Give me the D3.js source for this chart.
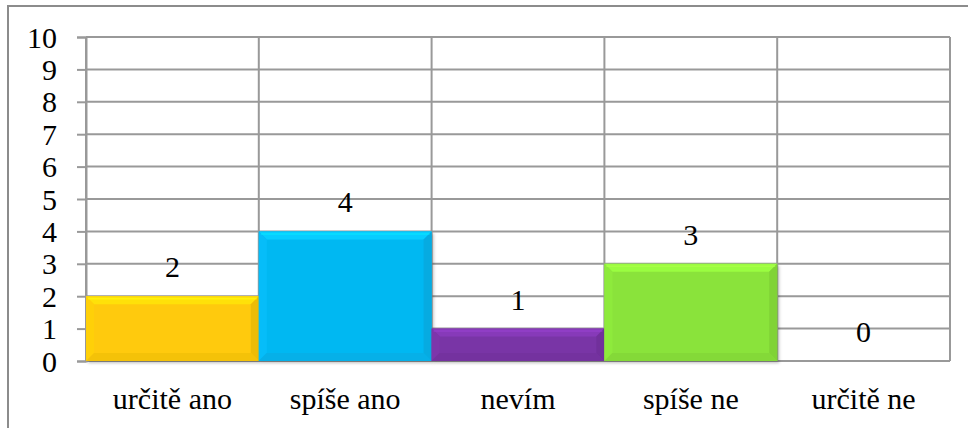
<!DOCTYPE html>
<html>
<head>
<meta charset="utf-8">
<script src="https://cdn.jsdelivr.net/npm/d3@7"></script>
</head>
<body style="margin:0">
<svg id="chart" width="968" height="428" style="display:block"></svg>
<script>
// Survey answers and counts
const categories = ["určitě ano", "spíše ano", "nevím", "spíše ne", "určitě ne"];
const counts = [2, 4, 1, 3, 0];
const barColors = ["#FFCA08", "#06B8F2", "#7934A6", "#8AE33A"];
const yTicks = [0, 1, 2, 3, 4, 5, 6, 7, 8, 9, 10];

const FS = 30;
const FONT_SHORT = `${FS}px "Times New Roman", Tinos, "Liberation Serif", serif`;
const svg = d3.select("#chart");
const W = 968, H = 428;
const plot = { left: 86, right: 950, top: 37, bottom: 361 };

// outer chart frame (runs off the right and bottom edges)
svg.append("rect")
  .attr("x", 8).attr("y", 6).attr("width", W).attr("height", H)
  .attr("fill", "#fff").attr("stroke", "#8c8c8c").attr("stroke-width", 2);

const x = d3.scaleBand().domain(categories).range([plot.left, plot.right]).padding(0);
const y = d3.scaleLinear().domain([0, 10]).range([plot.bottom, plot.top]);

const grid = svg.append("g");
// horizontal gridlines
grid.selectAll("line.h").data(yTicks).join("line")
  .attr("x1", plot.left).attr("x2", plot.right)
  .attr("y1", d => y(d)).attr("y2", d => y(d))
  .attr("stroke", "#999").attr("stroke-width", 2);
// vertical category separators
const bounds = categories.map(c => x(c)).concat([plot.right]);
grid.selectAll("line.v").data(bounds).join("line")
  .attr("x1", d => d).attr("x2", d => d)
  .attr("y1", plot.top).attr("y2", plot.bottom)
  .attr("stroke", "#999").attr("stroke-width", 2);

// y axis: outward ticks, labels drawn separately below
const yAxis = d3.axisLeft(y).tickValues(yTicks).tickSize(9).tickFormat("");
const ya = svg.append("g").attr("transform", `translate(${plot.left},0)`).call(yAxis);
ya.select(".domain").attr("stroke", "#999").attr("stroke-width", 2);
ya.selectAll(".tick line").attr("stroke", "#999").attr("stroke-width", 2);
ya.selectAll(".tick text").remove();

svg.selectAll("text.ytick").data(yTicks).join("text")
  .attr("class", "ytick")
  .attr("x", plot.left - 29)
  .attr("y", d => y(d) + 10.5)
  .attr("text-anchor", "end")
  .style("font", FONT_SHORT)
  .text(d => d);

// bottom baseline
svg.append("line")
  .attr("x1", plot.left).attr("x2", plot.right)
  .attr("y1", plot.bottom).attr("y2", plot.bottom)
  .attr("stroke", "#999").attr("stroke-width", 2);

// beveled bars
const defs = svg.append("defs");
defs.append("filter").attr("id", "shadow").attr("x", "-10%").attr("y", "-10%").attr("width", "130%").attr("height", "130%")
  .append("feDropShadow").attr("dx", 2).attr("dy", 2).attr("stdDeviation", 1.5)
  .attr("flood-color", "#000").attr("flood-opacity", 0.25);

const bars = svg.append("g");
counts.forEach((v, i) => {
  if (v <= 0) return;
  const c = d3.color(barColors[i]);
  const x0 = x(categories[i]), x1 = x0 + x.bandwidth();
  const y0 = y(v), y1 = y(0);
  const b = Math.min(8, (y1 - y0) / 2);
  const g = bars.append("g");
  g.append("rect").attr("x", x0).attr("y", y0).attr("width", x1 - x0).attr("height", y1 - y0)
    .attr("fill", c.formatHex()).attr("filter", "url(#shadow)");
  const poly = (pts, fill) => g.append("polygon")
    .attr("points", pts.map(p => p.join(",")).join(" ")).attr("fill", fill);
  // top edge lighter
  poly([[x0, y0], [x1, y0], [x1 - b, y0 + b], [x0 + b, y0 + b]], c.brighter(0.3).formatHex());
  // left edge slightly lighter
  poly([[x0, y0], [x0 + b, y0 + b], [x0 + b, y1 - b], [x0, y1]], c.brighter(0.08).formatHex());
  // right edge darker
  poly([[x1, y0], [x1, y1], [x1 - b, y1 - b], [x1 - b, y0 + b]], c.darker(0.2).formatHex());
  // bottom edge darker
  poly([[x0, y1], [x1, y1], [x1 - b, y1 - b], [x0 + b, y1 - b]], c.darker(0.12).formatHex());
  // thin highlight line along the top
  g.append("line").attr("x1", x0 + 2).attr("x2", x1 - 2).attr("y1", y0 + 2.5).attr("y2", y0 + 2.5)
    .attr("stroke", c.brighter(0.7).formatHex()).attr("stroke-width", 1.5).attr("opacity", 0.6);
});

// value labels
svg.selectAll("text.value").data(counts).join("text")
  .attr("class", "value")
  .attr("x", (d, i) => x(categories[i]) + x.bandwidth() / 2)
  .attr("y", d => y(d) - 19)
  .attr("text-anchor", "middle")
  .style("font", FONT_SHORT)
  .text(d => d);

// category labels
svg.selectAll("text.cat").data(categories).join("text")
  .attr("class", "cat")
  .attr("x", d => x(d) + x.bandwidth() / 2)
  .attr("y", 409)
  .attr("text-anchor", "middle")
  .style("font", FONT_SHORT)
  .text(d => d);
</script>
</body>
</html>
